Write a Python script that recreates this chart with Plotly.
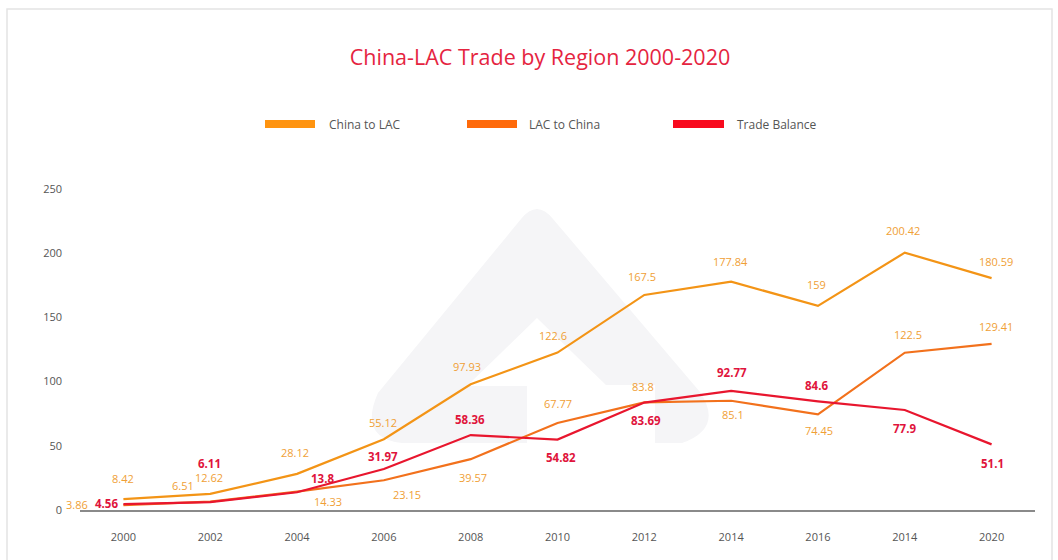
import plotly.graph_objects as go

# ---- data ----
years = ["2000", "2002", "2004", "2006", "2008", "2010", "2012", "2014", "2016", "2014", "2020"]
china_to_lac = [8.42, 12.62, 28.12, 55.12, 97.93, 122.6, 167.5, 177.84, 159, 200.42, 180.59]
lac_to_china = [3.86, 6.51, 14.33, 23.15, 39.57, 67.77, 83.8, 85.1, 74.45, 122.5, 129.41]
trade_balance = [4.56, 6.11, 13.8, 31.97, 58.36, 54.82, 83.69, 92.77, 84.6, 77.9, 51.1]
y_ticks = [0, 50, 100, 150, 200, 250]

# ---- label offsets (screen px: dx right, dy down) ----
china_off = [(0, -21), (-1, -16), (-2, -21), (-1, -17), (-4, -18), (-5, -17),
             (-2, -18), (-1, -20), (-1, -21), (-2, -22), (4, -17)]
lac_off = [(-46, -1), (-27, -16), (31, 10), (23, 14), (2, 18), (0, -19),
           (-1, -16), (2, 14), (1, 16), (3, -18), (4, -17)]
bal_off = [(-17, -1), (-1, -39), (25, -14), (-1, -12), (-1, -16), (3, 18),
           (2, 18), (1, -18), (-1, -16), (0, 19), (1, 19)]

C_CHINA = "#F39416"
C_LAC = "#F2711C"
C_BAL = "#E8162E"
LBL_OR = "#F0A035"
LBL_RED = "#E0143C"
FONT = "Open Sans"

# plot area in pixels
L, R, T, B = 80, 1035, 189, 510
W, H = 1058, 560


def px(x):
    return (x - L) / (R - L)


def py(y):
    return (B - y) / (B - T)


xs = list(range(len(years)))
fig = go.Figure()
fig.add_trace(go.Scatter(x=xs, y=china_to_lac, mode="lines", name="China to LAC",
                         line=dict(color=C_CHINA, width=2.2), hoverinfo="y"))
fig.add_trace(go.Scatter(x=xs, y=lac_to_china, mode="lines", name="LAC to China",
                         line=dict(color=C_LAC, width=2.2), hoverinfo="y"))
fig.add_trace(go.Scatter(x=xs, y=trade_balance, mode="lines", name="Trade Balance",
                         line=dict(color=C_BAL, width=2.2), hoverinfo="y"))

annotations = []
for vals, offs, color, bold in [(china_to_lac, china_off, LBL_OR, False),
                                (lac_to_china, lac_off, LBL_OR, False),
                                (trade_balance, bal_off, LBL_RED, True)]:
    for i, (v, (dx, dy)) in enumerate(zip(vals, offs)):
        txt = f"<b>{v:g}</b>" if bold else f"{v:g}"
        annotations.append(dict(x=i, y=v, xref="x", yref="y", text=txt, showarrow=False,
                                xshift=dx, yshift=-dy,
                                font=dict(family=FONT, size=11.5 if bold else 11, color=color)))

# legend (manual)
legend_items = [("China to LAC", "#FF9410", 265, 315, 327),
                ("LAC to China", "#FF6A0A", 467, 517, 527),
                ("Trade Balance", "#F80A1E", 673, 724, 735)]
shapes = []
for name, col, x0, x1, tx in legend_items:
    shapes.append(dict(type="rect", xref="paper", yref="paper", x0=px(x0), x1=px(x1),
                       y0=py(128), y1=py(120), fillcolor=col, line=dict(width=0)))
    annotations.append(dict(x=px(tx), y=py(124), xref="paper", yref="paper", text=name,
                            showarrow=False, xanchor="left", yanchor="middle",
                            font=dict(family=FONT, size=12, color="#555555")))


# watermark (faint logo)
def P(x, y):
    return f"{px(x):.4f},{py(y):.4f}"


outer = (f"M {P(521,219)} Q {P(537,199)} {P(553,219)} L {P(700,392)} "
         f"Q {P(724,428)} {P(682,443)} L {P(402,443)} Q {P(358,438)} {P(378,393)} Z")
shapes.append(dict(type="path", xref="paper", yref="paper", path=outer,
                   fillcolor="#F5F5F7", line=dict(width=0), layer="below"))
inner = f"M {P(537,318)} L {P(607,386)} L {P(467,386)} Z"
shapes.append(dict(type="path", xref="paper", yref="paper", path=inner,
                   fillcolor="#FFFFFF", line=dict(width=0), layer="below"))
shapes.append(dict(type="rect", xref="paper", yref="paper", x0=px(527), x1=px(655),
                   y0=py(444), y1=py(385), fillcolor="#FFFFFF", line=dict(width=0), layer="below"))

# card border
shapes.append(dict(type="rect", xref="paper", yref="paper", x0=px(7), x1=px(1052),
                   y0=py(580), y1=py(9), fillcolor="rgba(0,0,0,0)",
                   line=dict(color="#E4E4E4", width=1.5), layer="below"))

fig.update_layout(
    width=W, height=H,
    margin=dict(l=L, r=W - R, t=T, b=H - B, pad=0),
    paper_bgcolor="white", plot_bgcolor="rgba(0,0,0,0)",
    showlegend=False,
    title=dict(text="China-LAC Trade by Region 2000-2020", x=540 / W, xanchor="center",
               y=1 - 57 / H, yanchor="middle", xref="container", yref="container",
               font=dict(family=FONT, size=21.5, color="#E5243F")),
    font=dict(family=FONT),
    shapes=shapes,
    annotations=annotations,
    xaxis=dict(range=[-0.5, len(years) - 0.5], tickmode="array", tickvals=xs, ticktext=years,
               showgrid=False, zeroline=False, showline=True, linecolor="#8A8A8A", linewidth=2,
               ticks="", ticklabelstandoff=16,
               tickfont=dict(family=FONT, size=11, color="#555555")),
    yaxis=dict(range=[0, 250], tickmode="array", tickvals=y_ticks,
               showgrid=False, zeroline=False, showline=False, ticks="",
               ticklabelstandoff=17,
               tickfont=dict(family=FONT, size=11, color="#555555")),
)

fig.write_html("out.html", config={"displayModeBar": False},
               post_script="document.body.style.margin='0';document.body.style.overflow='hidden';")
